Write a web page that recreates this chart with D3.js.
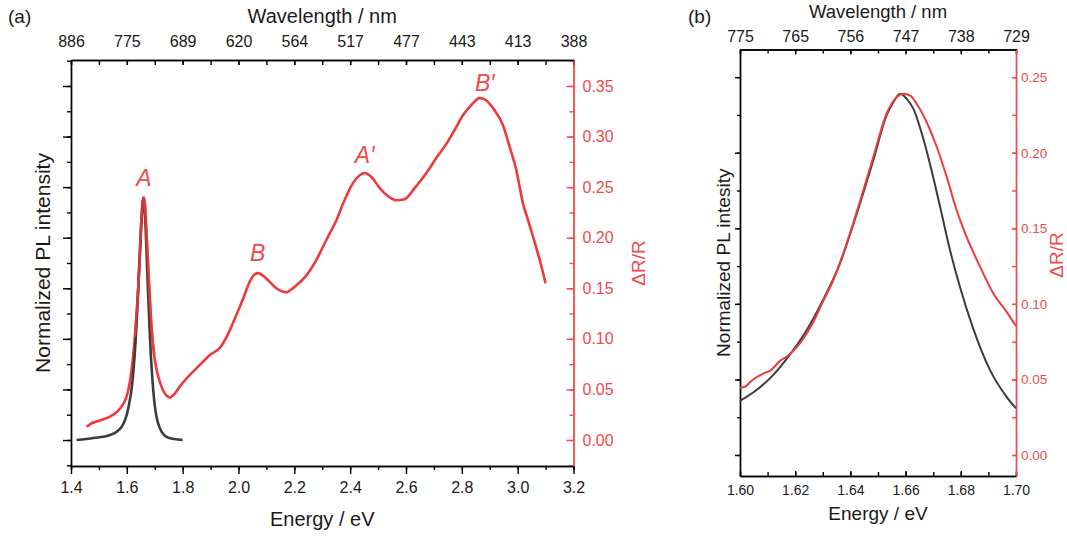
<!DOCTYPE html>
<html><head><meta charset="utf-8">
<script src="https://cdn.jsdelivr.net/npm/d3@7"></script>
<style>
body{margin:0;background:#fff;}
svg text{font-family:Arial,"Liberation Sans",sans-serif;}
</style></head><body>
<svg id="c" width="1067" height="536"></svg>
<script>
// ---------------- data ----------------
const energyTicksA = [1.4,1.6,1.8,2.0,2.2,2.4,2.6,2.8,3.0,3.2];
const energyTickLabelsA = ["1.4","1.6","1.8","2.0","2.2","2.4","2.6","2.8","3.0","3.2"];
const wavelengthLabelsA = ["886","775","689","620","564","517","477","443","413","388"];
const drTicksA = [0,0.05,0.10,0.15,0.20,0.25,0.30,0.35];
const drTickLabelsA = ["0.00","0.05","0.10","0.15","0.20","0.25","0.30","0.35"];

const energyTicksB = [1.60,1.62,1.64,1.66,1.68,1.70];
const energyTickLabelsB = ["1.60","1.62","1.64","1.66","1.68","1.70"];
const wavelengthLabelsB = ["775","765","756","747","738","729"];
const drTicksB = [0,0.05,0.10,0.15,0.20,0.25];
const drTickLabelsB = ["0.00","0.05","0.10","0.15","0.20","0.25"];

// panel (a) PL (normalized, peak = 1)
const plA_E = [1.42,1.48,1.54,1.581,1.605,1.62,1.633,1.645,1.653,1.659,1.666,1.673,1.683,1.695,1.712,1.742,1.77,1.80];
const plA_I = [0,0.008,0.021,0.054,0.13,0.24,0.44,0.72,0.91,1.0,0.91,0.70,0.42,0.20,0.069,0.013,0.004,0];

// panel (a) ΔR/R
const drA_E = [1.456,1.47,1.50,1.54,1.565,1.581,1.595,1.605,1.617,1.629,1.641,1.649,1.655,1.660,1.665,1.668,1.677,1.689,1.698,1.707,1.72,1.730,1.742,1.754,1.765,1.79,1.814,1.85,1.875,1.897,1.933,1.963,1.993,2.017,2.041,2.055,2.07,2.085,2.106,2.136,2.155,2.172,2.19,2.208,2.244,2.279,2.315,2.351,2.375,2.41,2.435,2.452,2.476,2.506,2.536,2.566,2.595,2.631,2.673,2.709,2.75,2.774,2.804,2.834,2.864,2.88,2.894,2.917,2.947,2.971,2.995,3.019,3.037,3.055,3.079,3.10];
const drA_V = [0.013,0.016,0.019,0.023,0.028,0.033,0.040,0.049,0.069,0.102,0.152,0.201,0.230,0.240,0.232,0.2175,0.168,0.109,0.084,0.069,0.056,0.049,0.044,0.042,0.044,0.053,0.061,0.071,0.078,0.084,0.091,0.105,0.124,0.140,0.157,0.163,0.165,0.163,0.158,0.150,0.147,0.146,0.149,0.153,0.163,0.178,0.198,0.2175,0.234,0.254,0.262,0.264,0.260,0.249,0.241,0.237,0.238,0.249,0.264,0.279,0.295,0.3065,0.321,0.331,0.338,0.337,0.334,0.326,0.3115,0.290,0.267,0.234,0.2175,0.201,0.178,0.155];

// peak labels (a)
const peakNames = ["A","B","A\u2032","B\u2032"];
const peakE = [1.661,2.069,2.452,2.882];
const peakV = [0.251,0.177,0.2736,0.345];

// panel (b) PL (normalized, peak = 1)
const plB_E = [1.600,1.606,1.612,1.618,1.6242,1.630,1.6362,1.6423,1.6483,1.6531,1.6556,1.658,1.6604,1.6628,1.6664,1.6694,1.6725,1.6761,1.6797,1.6845,1.6906,1.6966,1.700];
const plB_I = [0.150,0.180,0.221,0.277,0.346,0.428,0.530,0.668,0.816,0.940,0.977,1.0,0.986,0.959,0.876,0.788,0.687,0.567,0.465,0.350,0.235,0.161,0.129];

// panel (b) ΔR/R
const drB_E = [1.600,1.6018,1.6042,1.6085,1.6109,1.6145,1.6169,1.6217,1.6266,1.630,1.6338,1.6374,1.6423,1.6483,1.6531,1.6568,1.6592,1.6616,1.664,1.6676,1.6713,1.6749,1.6785,1.6821,1.687,1.6918,1.6966,1.700];
const drB_V = [0.0447,0.0452,0.0491,0.054,0.0557,0.0623,0.065,0.0738,0.0881,0.1013,0.1157,0.1333,0.1608,0.1972,0.2258,0.2368,0.239,0.2379,0.2324,0.2203,0.2038,0.1839,0.1619,0.1443,0.1245,0.1069,0.0947,0.0853];

const plScale = 0.239; // PL peak drawn at the height of ΔR/R = 0.239

// ---------------- drawing ----------------
const svg = d3.select("#c");
const RED_LINE = "#ee3a3a", RED_AX = "#f04a4e", BLACK_LINE = "#3c3c3c", TXT = "#1a1a1a";

function styleAxis(g, color, fs) {
  g.select(".domain").attr("stroke", color).attr("stroke-width", 1.4);
  g.selectAll(".tick line").attr("stroke", color).attr("stroke-width", 1.4);
  g.selectAll(".tick text").attr("fill", color === "#000" ? TXT : color).attr("font-size", fs).attr("font-family", "Arial, 'Liberation Sans', sans-serif");
}
function minorVals(domain, step) {
  const out = [];
  const s = Math.ceil(domain[0]/step - 1e-9), e = Math.floor(domain[1]/step + 1e-9);
  for (let k = s; k <= e; k++) out.push(+(k*step).toFixed(6));
  return out;
}

// ===== Panel (a) =====
(function(){
  const L = 71, R = 573.5, T = 60, B = 466;
  const x = d3.scaleLinear().domain([1.4, 3.2]).range([L, R]);
  const yR = d3.scaleLinear().domain([-0.0257, 0.3757]).range([B, T]);
  const yL = d3.scaleLinear().domain(yR.domain().map(v => v/plScale)).range([B, T]);

  const minE = minorVals([1.4,3.2], 0.1);
  svg.append("g").attr("transform",`translate(0,${B})`)
    .call(d3.axisBottom(x).tickValues(minE).tickSize(4).tickFormat("")).call(g=>styleAxis(g,"#000",16));
  svg.append("g").attr("transform",`translate(0,${T})`)
    .call(d3.axisTop(x).tickValues(minE).tickSizeInner(-5).tickSizeOuter(0).tickFormat("")).call(g=>styleAxis(g,"#000",16));
  const minR = minorVals(yR.domain(), 0.025);
  svg.append("g").attr("transform",`translate(${L},0)`)
    .call(d3.axisLeft(yL).tickValues(minR.map(v=>v/plScale)).tickSizeInner(4).tickSizeOuter(0).tickFormat("")).call(g=>styleAxis(g,"#000",16));
  svg.append("g").attr("transform",`translate(${R},0)`)
    .call(d3.axisRight(yR).tickValues(minR).tickSizeInner(-4).tickSizeOuter(0).tickFormat("")).call(g=>styleAxis(g,RED_AX,16));

  svg.append("g").attr("transform",`translate(0,${B})`)
    .call(d3.axisBottom(x).tickValues(energyTicksA).tickSizeInner(8).tickSizeOuter(0).tickPadding(8).tickFormat((d,i)=>energyTickLabelsA[i]))
    .call(g=>styleAxis(g,"#000",16));
  svg.append("g").attr("transform",`translate(0,${T})`)
    .call(d3.axisTop(x).tickValues(energyTicksA).tickSizeInner(-5).tickSizeOuter(0).tickPadding(13).tickFormat((d,i)=>wavelengthLabelsA[i]))
    .call(g=>styleAxis(g,"#000",16));
  svg.append("g").attr("transform",`translate(${L},0)`)
    .call(d3.axisLeft(yL).tickValues(drTicksA.map(v=>v/plScale)).tickSizeInner(8).tickSizeOuter(0).tickFormat(""))
    .call(g=>styleAxis(g,"#000",16));
  svg.append("g").attr("transform",`translate(${R},0)`)
    .call(d3.axisRight(yR).tickValues(drTicksA).tickSizeInner(-7).tickSizeOuter(0).tickPadding(9).tickFormat((d,i)=>drTickLabelsA[i]))
    .call(g=>styleAxis(g,RED_AX,16));

  const plLine = d3.line().x(d=>x(d[0])).y(d=>yL(d[1])).curve(d3.curveMonotoneX);
  const drLine = d3.line().x(d=>x(d[0])).y(d=>yR(d[1])).curve(d3.curveMonotoneX);
  svg.append("path").datum(drA_E.map((e,i)=>[e,drA_V[i]])).attr("d",drLine)
    .attr("fill","none").attr("stroke",RED_LINE).attr("stroke-width",2.6).attr("stroke-linejoin","round");
  svg.append("path").datum(plA_E.map((e,i)=>[e,plA_I[i]])).attr("d",plLine)
    .attr("fill","none").attr("stroke",BLACK_LINE).attr("stroke-width",2.6).attr("stroke-linejoin","round");
  svg.append("path").datum(drA_E.filter(e=>e>1.62&&e<1.70).map(e=>[e,drA_V[drA_E.indexOf(e)]])).attr("d",drLine)
    .attr("fill","none").attr("stroke",RED_LINE).attr("stroke-width",2.6).attr("opacity",0.85);

  peakNames.forEach((n,i)=>{
    svg.append("text").attr("x",x(peakE[i])).attr("y",yR(peakV[i])).attr("text-anchor","middle")
      .attr("font-size",23).attr("font-style","italic").attr("fill",RED_AX).text(n);
  });

  svg.append("text").attr("x",8).attr("y",23).attr("font-size",19).attr("fill",TXT).text("(a)");
  svg.append("text").attr("x",(L+R)/2).attr("y",23).attr("text-anchor","middle").attr("font-size",20).attr("fill",TXT).text("Wavelength / nm");
  svg.append("text").attr("x",(L+R)/2).attr("y",526).attr("text-anchor","middle").attr("font-size",20).attr("fill",TXT).text("Energy / eV");
  svg.append("text").attr("transform",`translate(50,${(T+B)/2}) rotate(-90)`).attr("text-anchor","middle").attr("font-size",21).attr("fill",TXT).text("Normalized PL intensity");
  svg.append("text").attr("transform",`translate(645,${(T+B)/2}) rotate(-90)`).attr("text-anchor","middle").attr("font-size",19).attr("fill",RED_AX).text("\u0394R/R");
})();

// ===== Panel (b) =====
(function(){
  const L = 740, R = 1016, T = 49.5, B = 476;
  const x = d3.scaleLinear().domain([1.60, 1.70]).range([L, R]);
  const yR = d3.scaleLinear().domain([-0.0139, 0.2683]).range([B, T]);
  const yL = d3.scaleLinear().domain(yR.domain().map(v => v/plScale)).range([B, T]);

  const minE = minorVals([1.6,1.7], 0.01);
  svg.append("g").attr("transform",`translate(0,${B})`)
    .call(d3.axisBottom(x).tickValues(minE).tickSizeInner(-4).tickSizeOuter(0).tickFormat("")).call(g=>styleAxis(g,"#000",14));
  svg.append("g").attr("transform",`translate(0,${T})`)
    .call(d3.axisTop(x).tickValues(minE).tickSizeInner(-4).tickSizeOuter(0).tickFormat("")).call(g=>styleAxis(g,"#000",16));
  const minR = minorVals(yR.domain(), 0.025);
  svg.append("g").attr("transform",`translate(${L},0)`)
    .call(d3.axisLeft(yL).tickValues(minR.map(v=>v/plScale)).tickSizeInner(3).tickSizeOuter(0).tickFormat("")).call(g=>styleAxis(g,"#000",14));
  svg.append("g").attr("transform",`translate(${R},0)`)
    .call(d3.axisRight(yR).tickValues(minR).tickSizeInner(-4).tickSizeOuter(0).tickFormat("")).call(g=>styleAxis(g,RED_AX,14));

  svg.append("g").attr("transform",`translate(0,${B})`)
    .call(d3.axisBottom(x).tickValues(energyTicksB).tickSizeInner(-5).tickSizeOuter(0).tickPadding(9).tickFormat((d,i)=>energyTickLabelsB[i]))
    .call(g=>styleAxis(g,"#000",14));
  svg.append("g").attr("transform",`translate(0,${T})`)
    .call(d3.axisTop(x).tickValues(energyTicksB).tickSizeInner(-5).tickSizeOuter(0).tickPadding(8).tickFormat((d,i)=>wavelengthLabelsB[i]))
    .call(g=>styleAxis(g,"#000",16));
  svg.append("g").attr("transform",`translate(${L},0)`)
    .call(d3.axisLeft(yL).tickValues(drTicksB.map(v=>v/plScale)).tickSizeInner(5).tickSizeOuter(0).tickFormat(""))
    .call(g=>styleAxis(g,"#000",14));
  svg.append("g").attr("transform",`translate(${R},0)`)
    .call(d3.axisRight(yR).tickValues(drTicksB).tickSizeInner(-4).tickSizeOuter(0).tickPadding(5).tickFormat((d,i)=>drTickLabelsB[i]))
    .call(g=>styleAxis(g,RED_AX,13.5));

  const plLine = d3.line().x(d=>x(d[0])).y(d=>yL(d[1])).curve(d3.curveMonotoneX);
  const drLine = d3.line().x(d=>x(d[0])).y(d=>yR(d[1])).curve(d3.curveMonotoneX);
  svg.append("path").datum(plB_E.map((e,i)=>[e,plB_I[i]])).attr("d",plLine)
    .attr("fill","none").attr("stroke",BLACK_LINE).attr("stroke-width",2).attr("stroke-linejoin","round");
  svg.append("path").datum(drB_E.map((e,i)=>[e,drB_V[i]])).attr("d",drLine)
    .attr("fill","none").attr("stroke",RED_LINE).attr("stroke-width",2).attr("stroke-linejoin","round");

  svg.append("text").attr("x",688).attr("y",23).attr("font-size",19).attr("fill",TXT).text("(b)");
  svg.append("text").attr("x",(L+R)/2).attr("y",18).attr("text-anchor","middle").attr("font-size",18.5).attr("fill",TXT).text("Wavelength / nm");
  svg.append("text").attr("x",(L+R)/2).attr("y",520).attr("text-anchor","middle").attr("font-size",19).attr("fill",TXT).text("Energy / eV");
  svg.append("text").attr("transform",`translate(730,${(T+B)/2}) rotate(-90)`).attr("text-anchor","middle").attr("font-size",19).attr("fill",TXT).text("Normalized PL intesity");
  svg.append("text").attr("transform",`translate(1063,255) rotate(-90)`).attr("text-anchor","middle").attr("font-size",19).attr("fill",RED_AX).text("\u0394R/R");
})();
</script>
</body></html>
